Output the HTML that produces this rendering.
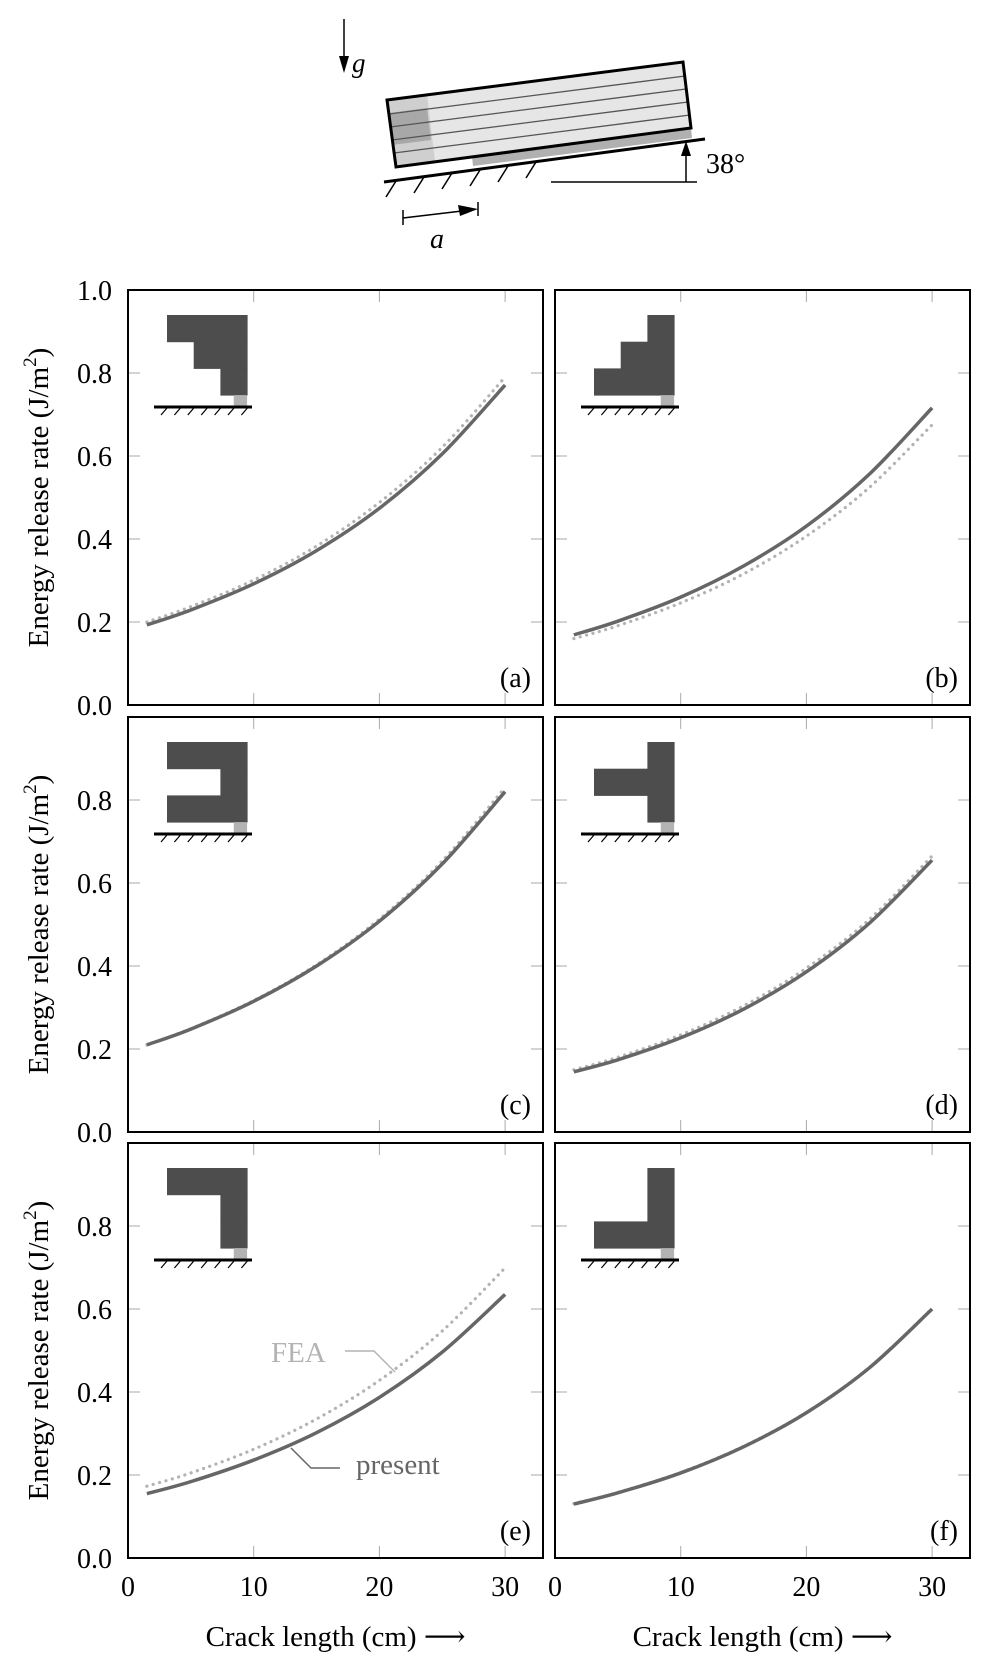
<!DOCTYPE html>
<html><head><meta charset="utf-8"><style>
html,body{margin:0;padding:0;background:#fff;}
svg, svg text{font-family:"Liberation Serif","DejaVu Serif",serif;}
</style></head><body>
<svg id="fig" width="989" height="1674" viewBox="0 0 989 1674" xmlns="http://www.w3.org/2000/svg" font-family="Liberation Serif, serif">
<g id="schematic">
  <line x1="344" y1="19" x2="344" y2="60" stroke="#000" stroke-width="1.5"/>
  <polygon points="339,56 349,56 344,73" fill="#000"/>
  <text x="352" y="72" font-size="27" font-style="italic" font-family="Liberation Serif, serif">g</text>
  <polygon points="387,100 683,62 691,128 396,167" fill="#e6e6e6"/>
  <polygon points="387,100 427,95 435,161 396,167" fill="#cfcfcf"/>
  <polygon points="389,113 427,108 431,140 392,145" fill="#a8a8a8"/>
  <polygon points="472,156 691,128 692,138 473,166" fill="#b0b0b0"/>
  <g stroke="#555" stroke-width="1.3">
    <line x1="389" y1="114" x2="685" y2="76"/>
    <line x1="390" y1="127" x2="686" y2="89"/>
    <line x1="392" y1="140" x2="688" y2="102"/>
    <line x1="394" y1="153" x2="690" y2="115"/>
  </g>
  <polygon points="387,100 683,62 691,128 396,167" fill="none" stroke="#000" stroke-width="3"/>
  <line x1="384" y1="182" x2="705" y2="139" stroke="#000" stroke-width="3"/>
  <g stroke="#000" stroke-width="1.5">
    <line x1="396" y1="181" x2="386" y2="197"/><line x1="424" y1="177" x2="414" y2="193"/>
    <line x1="452" y1="173" x2="442" y2="189"/><line x1="480" y1="170" x2="470" y2="186"/>
    <line x1="508" y1="166" x2="498" y2="182"/><line x1="536" y1="162" x2="526" y2="178"/>
  </g>
  <line x1="551" y1="182" x2="697" y2="182" stroke="#000" stroke-width="1.5"/>
  <line x1="686" y1="182" x2="686" y2="152" stroke="#000" stroke-width="1.5"/>
  <polygon points="681,156 691,156 686,141" fill="#000"/>
  <text x="706" y="173" font-size="28" font-family="Liberation Serif, serif">38°</text>
  <line x1="403" y1="218" x2="462" y2="211" stroke="#000" stroke-width="1.5"/>
  <line x1="403" y1="210" x2="403" y2="225" stroke="#000" stroke-width="1.5"/>
  <line x1="478" y1="202" x2="478" y2="216" stroke="#000" stroke-width="1.5"/>
  <polygon points="458,205 460,216 478,209" fill="#000"/>
  <text x="430" y="248" font-size="28" font-style="italic" font-family="Liberation Serif, serif">a</text>
</g>
<g id="panels" font-family="Liberation Serif, serif"></g>
</svg>
<script>
const xs = [1.5, 5, 10, 15, 20, 25, 30];
const presentA = [0.193, 0.229, 0.292, 0.372, 0.474, 0.605, 0.771];
const feaA = [0.20, 0.237, 0.301, 0.383, 0.488, 0.621, 0.79];
const presentB = [0.169, 0.202, 0.260, 0.335, 0.431, 0.556, 0.716];
const feaB = [0.16, 0.191, 0.246, 0.316, 0.407, 0.524, 0.675];
const presentC = [0.21, 0.248, 0.315, 0.400, 0.508, 0.646, 0.82];
const feaC = [0.21, 0.249, 0.317, 0.403, 0.513, 0.653, 0.83];
const presentD = [0.145, 0.174, 0.227, 0.296, 0.386, 0.503, 0.655];
const feaD = [0.15, 0.180, 0.234, 0.304, 0.395, 0.512, 0.665];
const presentE = [0.155, 0.184, 0.236, 0.302, 0.387, 0.496, 0.635];
const feaE = [0.173, 0.205, 0.262, 0.335, 0.428, 0.547, 0.699];
const presentF = [0.13, 0.157, 0.205, 0.268, 0.350, 0.458, 0.6];
const feaF = [0.131, 0.158, 0.206, 0.269, 0.351, 0.459, 0.601];
const xTicks = [0, 10, 20, 30];
const yTicks = [0, 0.2, 0.4, 0.6, 0.8, 1.0];
const yTickLabels = ["0.0", "0.2", "0.4", "0.6", "0.8", "1.0"];
const panelLabels = ["(a)", "(b)", "(c)", "(d)", "(e)", "(f)"];
const insetShapes = [
  [[0,3],[1,3],[2,3]],
  [[2,3],[1,3],[0,3]],
  [[0,3],[2,3],[0,3]],
  [[2,3],[0,3],[2,3]],
  [[0,3],[2,3],[2,3]],
  [[2,3],[2,3],[0,3]]
];
const presentSeries = [presentA, presentB, presentC, presentD, presentE, presentF];
const feaSeries = [feaA, feaB, feaC, feaD, feaE, feaF];

const NS = "http://www.w3.org/2000/svg";
const FONT = "Liberation Serif, serif";
const root = document.getElementById('panels');
const W = 415, H = 415;
const lefts = [128, 555], tops = [290, 717, 1143];
const XMAX = 415 / 12.57;
function mk(tag, attrs, parent) {
  const e = document.createElementNS(NS, tag);
  for (const k in attrs) e.setAttribute(k, attrs[k]);
  if (tag === 'text') e.setAttribute('font-family', FONT);
  parent.appendChild(e);
  return e;
}
function smoothPath(pts) {
  let d = `M${pts[0][0]},${pts[0][1]}`;
  for (let i = 0; i < pts.length - 1; i++) {
    const p0 = pts[Math.max(0, i - 1)], p1 = pts[i], p2 = pts[i + 1], p3 = pts[Math.min(pts.length - 1, i + 2)];
    const c1 = [p1[0] + (p2[0] - p0[0]) / 6, p1[1] + (p2[1] - p0[1]) / 6];
    const c2 = [p2[0] - (p3[0] - p1[0]) / 6, p2[1] - (p3[1] - p1[1]) / 6];
    d += ` C${c1[0]},${c1[1]} ${c2[0]},${c2[1]} ${p2[0]},${p2[1]}`;
  }
  return d;
}
for (let p = 0; p < 6; p++) {
  const col = p % 2, row = Math.floor(p / 2);
  const L = lefts[col], T = tops[row];
  const sx = v => L + v / XMAX * W;
  const sy = v => T + H - v * H;
  const g = mk('g', {}, root);
  
  
  xTicks.forEach(t => {
    const x = sx(t);
    if (t !== 0) {
      const a = mk('line', {x1: x, y1: T, x2: x, y2: T + 12, stroke: '#aaa', 'stroke-width': 1}, g);
      
      
      const b = mk('line', {x1: x, y1: T + H, x2: x, y2: T + H - 12, stroke: '#aaa', 'stroke-width': 1}, g);
      
      
    }
    if (row === 2) {
      const tl = mk('text', {x: x, y: T + H + 38, 'font-size': 28, 'text-anchor': 'middle'}, g);
      
      
      tl.textContent = t;
    }
  });
  if (row === 2) {
    const xl = mk('text', {x: L + W / 2, y: T + H + 88, 'font-size': 29, 'text-anchor': 'middle'}, g);
    
    
    xl.textContent = 'Crack length (cm) \u27F6';
  }
  yTicks.forEach((t, i) => {
    const y = sy(t);
    if (t > 0 && t < 1) {
      const a = mk('line', {x1: L, y1: y, x2: L + 12, y2: y, stroke: '#aaa', 'stroke-width': 1}, g);
      
      
      const b = mk('line', {x1: L + W, y1: y, x2: L + W - 12, y2: y, stroke: '#aaa', 'stroke-width': 1}, g);
      
      
    }
    if (col === 0 && (t < 1 || row === 0)) {
      const tl = mk('text', {x: L - 16, y: y + 10, 'font-size': 28, 'text-anchor': 'end'}, g);
      
      
      tl.textContent = yTickLabels[i];
    }
  });
  if (col === 0) {
    const yl = mk('text', {x: 0, y: 0, 'font-size': 29, 'text-anchor': 'middle', transform: `translate(48,${T + H / 2}) rotate(-90)`}, g);
    
    
    yl.innerHTML = 'Energy release rate (J/m<tspan font-size="19" dy="-12">2</tspan><tspan dy="12">)</tspan>';
  }
  const cell = 26.7, ix = L + 39, iy = T + 25;
  const ins = mk('g', {}, g);
  
  
  insetShapes[p].forEach((r, ri) => {
    mk('rect', {x: ix + r[0] * cell, y: iy + ri * cell, width: (r[1] - r[0]) * cell + 0.5, height: cell + 0.5, fill: '#4d4d4d'}, ins);
  });
  mk('rect', {x: ix + 2.5 * cell, y: iy + 3 * cell, width: cell / 2, height: 12, fill: '#b3b3b3'}, ins);
  mk('line', {x1: L + 26, y1: T + 117, x2: L + 124, y2: T + 117, stroke: '#000', 'stroke-width': 3}, ins);
  for (let k = 0; k < 7; k++) {
    const hx = L + 39 + k * 13.4;
    mk('line', {x1: hx, y1: T + 118, x2: hx - 6, y2: T + 125, stroke: '#000', 'stroke-width': 1.2}, ins);
  }
  const fp = feaSeries[p].map((v, i) => [sx(xs[i]), sy(v)]);
  const fea = mk('path', {d: smoothPath(fp), fill: 'none', stroke: '#b3b3b3', 'stroke-width': 3.2, 'stroke-linecap': 'round', 'stroke-dasharray': '0.1 6.5'}, g);
  
  
  const pp = presentSeries[p].map((v, i) => [sx(xs[i]), sy(v)]);
  const pr = mk('path', {d: smoothPath(pp), fill: 'none', stroke: '#666', 'stroke-width': 3.5}, g);
  
  
  const fr = mk('rect', {x: L, y: T, width: W, height: H, fill: 'none', stroke: '#000', 'stroke-width': 2}, g);
  
  
  const pl = mk('text', {x: L + W - 12, y: T + H - 18, 'font-size': 28, 'text-anchor': 'end'}, g);
  
  
  pl.textContent = panelLabels[p];
  if (p === 4) {
    const ft = mk('text', {x: 271, y: 1362, 'font-size': 29, fill: '#b3b3b3'}, g);
    
    
    ft.textContent = 'FEA';
    const fl = mk('polyline', {points: '345,1351 374,1351 395,1372', fill: 'none', stroke: '#b3b3b3', 'stroke-width': 1.5}, g);
    
    
    const pt = mk('text', {x: 356, y: 1474, 'font-size': 29, fill: '#666'}, g);
    
    
    pt.textContent = 'present';
    const pll = mk('polyline', {points: '291,1448 311,1468 340,1468', fill: 'none', stroke: '#666', 'stroke-width': 1.5}, g);
    
    
  }
}
</script>
</body></html>
